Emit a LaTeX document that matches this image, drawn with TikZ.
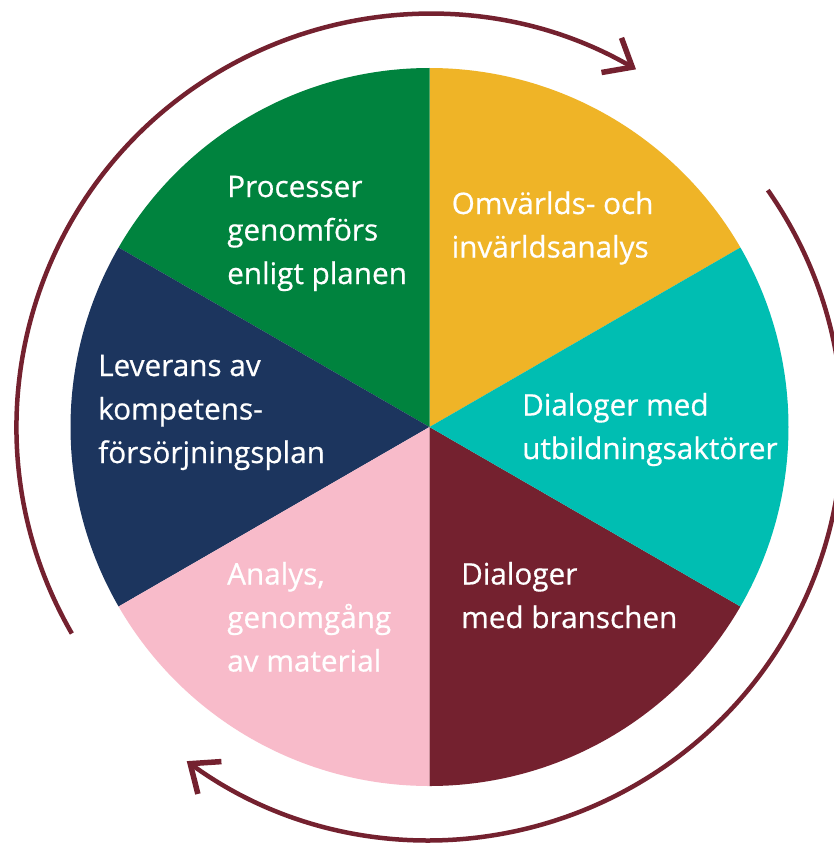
\documentclass[tikz,border=0pt]{standalone}
\usepackage{fontspec}
\setmainfont{Open Sans}
\newfontfamily\lblfont{Open Sans}[FakeBold=0.6]
\usetikzlibrary{arrows.meta}
\definecolor{cgreen}{RGB}{0,131,62}
\definecolor{cyellow}{RGB}{239,180,39}
\definecolor{cteal}{RGB}{0,190,178}
\definecolor{cmaroon}{RGB}{116,33,47}
\definecolor{cpink}{RGB}{248,187,202}
\definecolor{cnavy}{RGB}{28,53,94}
\newcommand\txtlines[1]{\vtop{\halign{##\hfil\cr#1\crcr}}}
\tikzset{
  lbl/.style={anchor=base west, inner sep=0pt, text=white,
    font=\lblfont\fontsize{29.7}{43.5}\selectfont},
  cyclearc/.style={draw=cmaroon, line width=4.5pt,
    -{Straight Barb[length=24pt, width=40pt, line width=5.5pt]}}
}
\begin{document}
\begin{tikzpicture}[x=1pt,y=1pt]
\useasboundingbox (0,0) rectangle (833,-843);
\fill[white] (0,0) rectangle (833,-843);
\coordinate (C) at (429.5,-427);
% sectors
\fill[cyellow] (C) -- ++(30:359) arc[start angle=30, end angle=90, radius=359] -- cycle;
\fill[cgreen] (C) -- ++(90:359) arc[start angle=90, end angle=150, radius=359] -- cycle;
\fill[cnavy] (C) -- ++(150:359) arc[start angle=150, end angle=210, radius=359] -- cycle;
\fill[cpink] (C) -- ++(210:359) arc[start angle=210, end angle=270, radius=359] -- cycle;
\fill[cmaroon] (C) -- ++(270:359) arc[start angle=270, end angle=330, radius=359] -- cycle;
\fill[cteal] (C) -- ++(-30:359) arc[start angle=-30, end angle=30, radius=359] -- cycle;
% cycle arrows
\draw[cyclearc] (C) ++(210:413) arc[start angle=210, end angle=60, radius=413];
\draw[cyclearc] (C) ++(35:413) arc[start angle=35, end angle=-126, radius=413];
% labels
\node[lbl] (tgreen) at (227,-197) {\txtlines{Processer\cr genomförs\cr enligt planen}};
\node[lbl] (tyellow) at (451.5,-214) {\txtlines{Omvärlds- och\cr invärldsanalys}};
\node[lbl] (tteal) at (522,-415.5) {\txtlines{Dialoger med\cr utbildningsaktörer}};
\node[lbl] (tmaroon) at (461,-584.5) {\txtlines{Dialoger\cr med branschen}};
\node[lbl] (tpink) at (227,-584.5) {\txtlines{Analys,\cr genomgång\cr av material}};
\node[lbl] (tnavy) at (98,-376) {\txtlines{Leverans av\cr kompetens-\cr försörjningsplan}};
\end{tikzpicture}
\end{document}
